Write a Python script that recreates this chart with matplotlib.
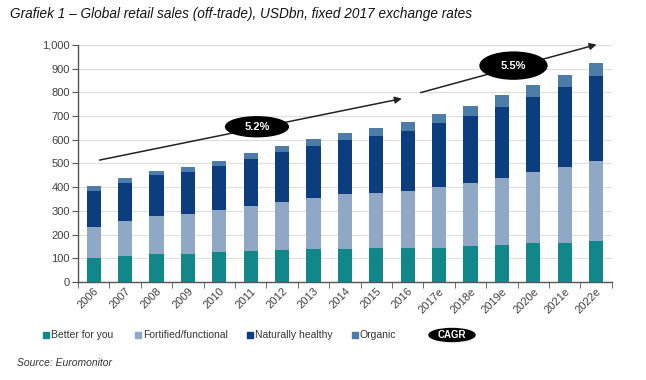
import matplotlib
matplotlib.use("Agg")
import matplotlib.pyplot as plt
from matplotlib.patches import Ellipse, Rectangle
from matplotlib.transforms import ScaledTranslation
import numpy as np

plt.rcParams['font.family'] = ['Liberation Sans', 'DejaVu Sans']

years = ["2006", "2007", "2008", "2009", "2010", "2011", "2012", "2013", "2014",
         "2015", "2016", "2017e", "2018e", "2019e", "2020e", "2021e", "2022e"]
better_for_you = [103, 108, 117, 120, 127, 130, 134, 138, 138, 142, 142, 143, 150, 155, 163, 163, 174]
fortified = [130, 149, 160, 168, 178, 191, 205, 216, 232, 233, 243, 258, 268, 282, 300, 321, 335]
naturally_healthy = [151, 162, 173, 175, 183, 197, 208, 221, 229, 242, 253, 269, 282, 300, 318, 337, 360]
organic = [21, 20, 18, 24, 21, 25, 28, 27, 31, 34, 37, 39, 44, 51, 49, 51, 56]
series_names = ["Better for you", "Fortified/functional", "Naturally healthy", "Organic"]
cagr_labels = ["5.2%", "5.5%"]
yticks = list(range(0, 1001, 100))

colors = ["#12878a", "#8ea8c6", "#0c3d7e", "#4d7ca8"]

fig = plt.figure(figsize=(6.46, 3.8), dpi=100)
ax = fig.add_axes([0.1207, 0.258, 0.8263, 0.6236])

x = np.arange(len(years))
bottom = np.zeros(len(years))
for vals, c in zip([better_for_you, fortified, naturally_healthy, organic], colors):
    ax.bar(x, vals, bottom=bottom, width=0.45, color=c, zorder=3)
    bottom += np.array(vals)

ax.set_xlim(-0.5, len(years) - 0.5)
ax.set_ylim(0, 1000)
ax.set_yticks(yticks)
ax.set_yticklabels([f"{v:,}" for v in yticks], fontsize=8, color="#404040")
ax.yaxis.grid(True, color="#dcdcdc", lw=0.8, zorder=0)
ax.set_axisbelow(True)
ax.set_xticks(x)
ax.set_xticklabels(years, rotation=45, fontsize=8, color="#404040", ha="right", va="top",
                   rotation_mode="anchor")
off = ScaledTranslation(4 / 100, -7 / 100, fig.dpi_scale_trans)
for lbl in ax.get_xticklabels():
    lbl.set_transform(lbl.get_transform() + off)
ax.tick_params(axis="x", length=0, pad=3)
ax.set_xticks(np.arange(-0.5, len(years), 1), minor=True)
ax.tick_params(axis="x", which="minor", length=4, color="#555555", direction="out")
ax.tick_params(axis="y", length=4, color="#555555", pad=2)
for s in ["top", "right"]:
    ax.spines[s].set_visible(False)
for s in ["left", "bottom"]:
    ax.spines[s].set_color("#555555")
    ax.spines[s].set_linewidth(1.0)

# CAGR arrows
ax.annotate("", xy=(9.9, 776), xytext=(0.1, 512),
            arrowprops=dict(arrowstyle="-|>", color="#222222", lw=1.1, mutation_scale=10),
            annotation_clip=False, zorder=5)
ax.annotate("", xy=(16.1, 1005), xytext=(10.33, 796),
            arrowprops=dict(arrowstyle="-|>", color="#222222", lw=1.1, mutation_scale=10),
            annotation_clip=False, zorder=5)
e1 = Ellipse((5.2, 655), 2.0, 84, color="black", zorder=6, clip_on=False)
e2 = Ellipse((13.37, 913), 2.13, 114, color="black", zorder=6, clip_on=False)
ax.add_patch(e1)
ax.add_patch(e2)
ax.text(5.2, 655, cagr_labels[0], color="white", fontsize=8, fontweight="bold",
        ha="center", va="center", zorder=7)
ax.text(13.37, 913, cagr_labels[1], color="white", fontsize=8, fontweight="bold",
        ha="center", va="center", zorder=7)

# Title & source
fig.text(0.015, 0.962, "Grafiek 1 – Global retail sales (off-trade), USDbn, fixed 2017 exchange rates",
         fontsize=9.8, style="italic", ha="left", va="center", color="#111111")
fig.text(0.026, 0.045, "Source: Euromonitor", fontsize=7.5, style="italic", ha="left",
         va="center", color="#333333")

# Legend (manual)
leg_y = 1 - 335 / 380
sq = 6
sq_xs = [46, 138, 250, 355]
for name, c, sx in zip(series_names, colors, sq_xs):
    fig.add_artist(Rectangle((sx / 646 - sq / 2 / 646, leg_y - sq / 2 / 380), sq / 646, sq / 380,
                             color=c, transform=fig.transFigure))
    fig.text((sx + 5) / 646, leg_y, name, fontsize=7.5, color="#333333", ha="left", va="center")
fig.add_artist(Ellipse((452 / 646, leg_y), 46 / 646, 13 / 380, color="black",
                       transform=fig.transFigure))
fig.text(452 / 646, leg_y, "CAGR", fontsize=7, color="white", fontweight="bold",
         ha="center", va="center")

fig.savefig("out.png", dpi=100)
